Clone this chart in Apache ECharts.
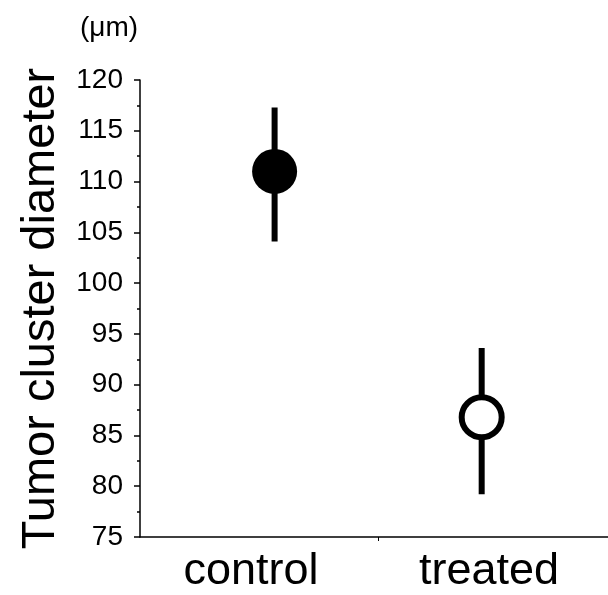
<!DOCTYPE html>
<html>
<head>
<meta charset="utf-8">
<script src="https://cdn.jsdelivr.net/npm/echarts@6/dist/echarts.min.js"></script>
<style>html,body{margin:0;padding:0;background:#fff}#c{width:608px;height:595px}</style>
</head>
<body>
<div id="c"></div>
<script>
var categories = ['control', 'treated'];
var means = [111.0, 86.8];
var lower = [104.1, 79.2];
var upper = [117.3, 93.6];
var yTicks = [75, 80, 85, 90, 95, 100, 105, 110, 115, 120];

var FONT = 'Liberation Sans, Arial, sans-serif';
var chart = echarts.init(document.getElementById('c'), null, {renderer: 'canvas'});

var barData = categories.map(function (c, i) { return [i + 1, lower[i], upper[i]]; });
var ptData = categories.map(function (c, i) { return [i + 1, means[i]]; });

chart.setOption({
  animation: false,
  backgroundColor: '#fff',
  grid: [
    {left: 140, right: 0, top: 80, bottom: 58},
    {left: 132, right: -4, top: 80, bottom: 58}
  ],
  xAxis: [
    {
      type: 'value', gridIndex: 0, min: 0.35, max: 2.61,
      splitLine: {show: false},
      axisLine: {show: true, lineStyle: {color: '#000', width: 1.5}},
      axisTick: {show: true, customValues: [1.5], length: 4, lineStyle: {color: '#000', width: 1}},
      axisLabel: {show: false}
    },
    {
      type: 'category', gridIndex: 1, data: categories,
      axisLine: {show: false}, axisTick: {show: false}, splitLine: {show: false},
      axisLabel: {color: '#000', fontSize: 45, fontFamily: FONT, margin: 12}
    }
  ],
  yAxis: [
    {
      type: 'value', gridIndex: 0, min: yTicks[0], max: yTicks[yTicks.length - 1], interval: 5,
      splitLine: {show: false},
      axisLine: {show: true, lineStyle: {color: '#000', width: 1.5}},
      axisTick: {show: true, length: 6, lineStyle: {color: '#000', width: 1.5}},
      minorTick: {show: true, splitNumber: 2, length: 3, lineStyle: {color: '#000', width: 1.5}},
      axisLabel: {color: '#000', fontSize: 28, fontFamily: FONT, margin: 17},
      name: 'Tumor cluster diameter',
      nameLocation: 'middle', nameRotate: 90, nameGap: 75,
      nameTextStyle: {color: '#000', fontSize: 47, fontFamily: FONT}
    },
    {type: 'value', gridIndex: 1, show: false, min: 0, max: 1}
  ],
  graphic: [
    {type: 'text', left: 80, top: 14, style: {text: '(μm)', font: '28px Liberation Sans, Arial, sans-serif', fill: '#000'}}
  ],
  series: [
    {
      type: 'custom', xAxisIndex: 0, yAxisIndex: 0, z: 2,
      data: barData,
      encode: {x: 0, y: [1, 2]},
      renderItem: function (params, api) {
        var p1 = api.coord([api.value(0), api.value(1)]);
        var p2 = api.coord([api.value(0), api.value(2)]);
        return {type: 'line', shape: {x1: p1[0], y1: p1[1], x2: p2[0], y2: p2[1]},
                style: {stroke: '#000', lineWidth: 6}};
      }
    },
    {
      type: 'scatter', xAxisIndex: 0, yAxisIndex: 0, z: 3,
      data: [
        {value: ptData[0], symbolSize: 45, itemStyle: {color: '#000', opacity: 1}},
        {value: ptData[1], symbolSize: 40, itemStyle: {color: '#fff', borderColor: '#000', borderWidth: 6, opacity: 1}}
      ],
      symbol: 'circle',
      emphasis: {disabled: true}
    }
  ]
});
</script>
</body>
</html>
